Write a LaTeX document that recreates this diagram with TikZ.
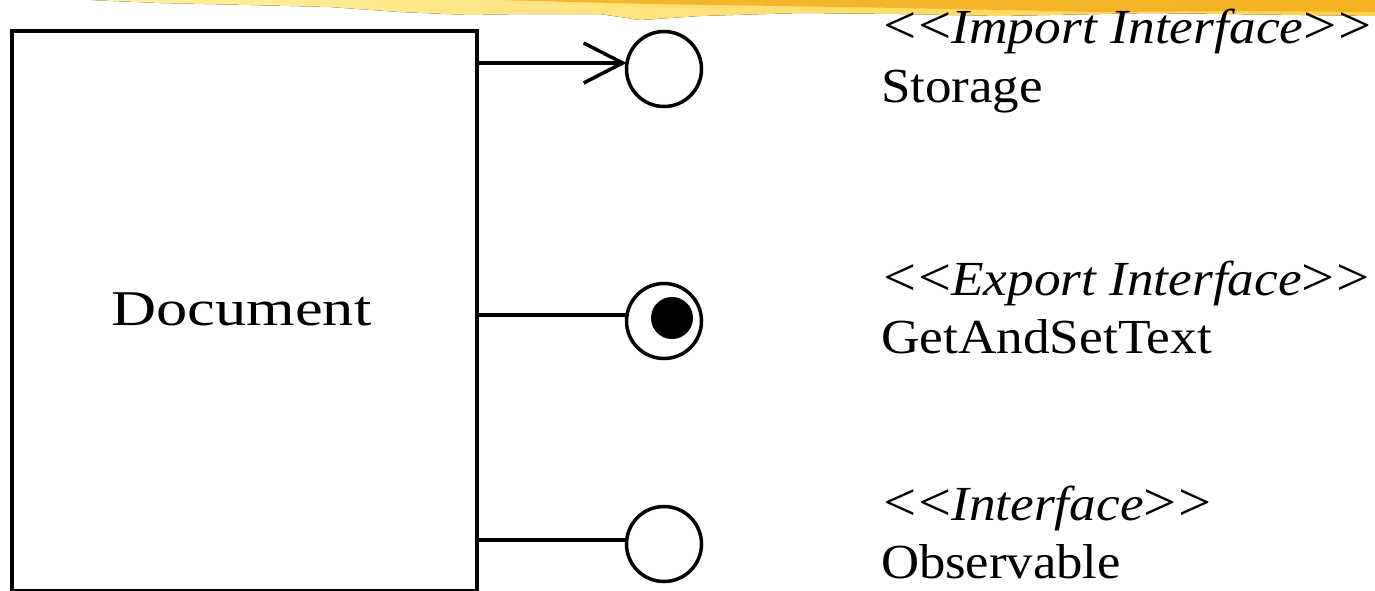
\documentclass[tikz,border=0pt]{standalone}
\usepackage{fontspec}
\setmainfont{Liberation Serif}
\usetikzlibrary{arrows.meta}
\newcommand{\fitw}[2]{\resizebox{#1}{\height}{#2}}
\newcommand{\stlt}{\scalebox{1.1}{\textless}}
\newcommand{\stgt}{\scalebox{1.1}{\textgreater}}
\newcommand{\stleft}{\stlt\kern2pt\stlt}
\newcommand{\stright}{\stgt\kern2pt\stgt}
\definecolor{brushA}{HTML}{FFEFA0}
\definecolor{brushB}{HTML}{FFD24A}
\definecolor{brushC}{HTML}{F2AE1E}
\begin{document}
\begin{tikzpicture}[x=1pt,y=-1pt,
  lbl/.style={anchor=base west,inner sep=0pt,outer sep=0pt,font=\fontsize{49}{49}\selectfont},
  iface/.style={circle,draw,line width=3.5pt,minimum size=75pt,inner sep=0pt,outer sep=0pt},
  conn/.style={line width=3.5pt},
  barb/.style={-{Straight Barb[length=39pt,width=40pt]}}]
\useasboundingbox (0,0) rectangle (1375,590);
% brush stroke
\fill[left color=brushA,right color=brushB] (90,0) -- (1375,0) -- (1375,16) -- (1300,15) -- (1150,13) -- (1000,16) -- (900,14) -- (800,13) -- (700,16) -- (640,20) -- (600,14) -- (520,14) -- (470,15) -- (400,12) -- (330,7) -- (250,5) -- (160,3) -- cycle;
\fill[brushC,opacity=0.85] (500,0) -- (1375,0) -- (1375,12) -- (1250,11) -- (1100,12) -- (1000,10) -- (900,8) -- (780,6) -- (650,4) -- cycle;
% component box
\node[draw,line width=3.5pt,minimum width=465pt,minimum height=560pt,anchor=north west,inner sep=0pt,outer sep=0pt] (doc) at (12,31) {};
\node[anchor=base,inner sep=0pt] (doctext) at (241.5,325) {\fitw{260pt}{\fontsize{50}{50}\selectfont Document}};
% interface circles
\node[iface] (c1) at (664,69) {};
\node[iface] (c2) at (664,321) {};
\node[circle,fill,minimum size=42pt,inner sep=0pt] (d2) at (672,318) {};
\node[iface] (c3) at (664,544) {};
% connectors
\coordinate (p1) at (477,63);
\coordinate (p2) at (477,315);
\coordinate (p3) at (477,540);
\draw[conn,barb] (p1) -- (c1.west |- p1);
\draw[conn] (p2) -- (c2.west |- p2);
\draw[conn] (p3) -- (c3.west |- p3);
% labels
\node[lbl] (l1a) at (883,43) {\fitw{489pt}{\stleft\textit{Import Interface}\stright}};
\node[lbl] (l1b) at (881,102) {\fitw{162pt}{Storage}};
\node[lbl] (l2a) at (883,295) {\fitw{487pt}{\stleft\textit{Export Interface}\stright}};
\node[lbl] (l2b) at (881,353) {\fitw{331pt}{GetAndSetText}};
\node[lbl] (l3a) at (883,520) {\fitw{329pt}{\stleft\textit{Interface}\stright}};
\node[lbl] (l3b) at (881,578) {\fitw{240pt}{Observable}};
\end{tikzpicture}
\end{document}
